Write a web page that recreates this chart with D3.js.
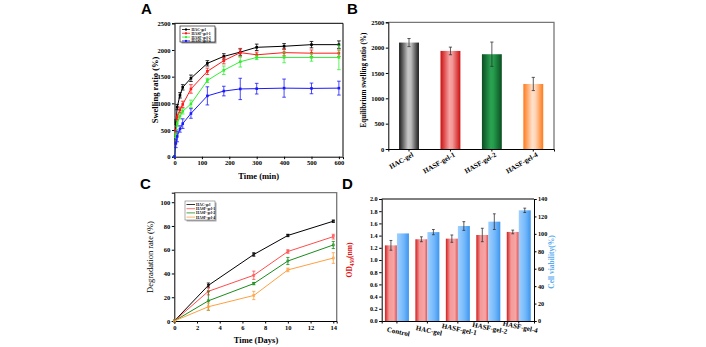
<!DOCTYPE html>
<html>
<head>
<meta charset="utf-8">
<script src="https://cdn.jsdelivr.net/npm/d3@7"></script>
<style>
  html, body { margin: 0; padding: 0; background: #fff; }
  svg { display: block; }
  .tick text { font-family: "Liberation Serif", "Times New Roman", serif; font-weight: bold; }
</style>
</head>
<body>
<svg id="chart" width="706" height="347"></svg>
<script>
// ---- panel A: swelling kinetics ----
const swellTimes = [0, 5, 10, 20, 30, 60, 120, 180, 240, 300, 400, 500, 600];
const swellSeries = ["HAC-gel", "HASF-gel-1", "HASF-gel-2", "HASF-gel-4"];
const swellHAC = [0, 650, 930, 1150, 1300, 1470, 1750, 1880, 1960, 2050, 2070, 2100, 2100];
const swellHAC_err = [0, 40, 50, 50, 50, 60, 50, 50, 60, 60, 50, 60, 70];
const swellG1 = [0, 470, 750, 880, 980, 1270, 1600, 1800, 1950, 1910, 1950, 1940, 1940];
const swellG1_err = [0, 40, 50, 50, 60, 80, 60, 60, 80, 50, 60, 60, 60];
const swellG2 = [0, 400, 620, 760, 850, 990, 1430, 1620, 1780, 1860, 1860, 1860, 1860];
const swellG2_err = [0, 40, 50, 50, 50, 70, 40, 80, 100, 40, 100, 70, 230];
const swellG4 = [0, 250, 380, 520, 620, 810, 1140, 1230, 1270, 1275, 1285, 1280, 1285];
const swellG4_err = [0, 80, 100, 60, 90, 90, 170, 90, 200, 100, 170, 100, 130];
const swellColors = ["#000000", "#ff1a1a", "#33ee33", "#1a1aff"];

// ---- panel B: equilibrium swelling ----
const eqCategories = ["HAC-gel", "HASF-gel-1", "HASF-gel-2", "HASF-gel-4"];
const eqValues = [2100, 1935, 1870, 1283];
const eqErrors = [80, 75, 240, 130];

// ---- panel C: degradation ----
const degDays = [0, 3, 7, 10, 14];
const degHAC = [0, 30, 56, 72, 84];
const degHAC_err = [0, 2, 1.5, 1, 1];
const degG1 = [0, 25, 38.5, 58.5, 71];
const degG1_err = [0, 3, 3.5, 1.5, 2];
const degG2 = [0, 17, 31.5, 50.5, 64];
const degG2_err = [0, 8, 1, 3, 3];
const degG4 = [0, 12, 21.5, 43, 53];
const degG4_err = [0, 3, 3.5, 1.5, 4.5];
const degColors = ["#000000", "#ff4d4d", "#1a8c1a", "#ffa040"];

// ---- panel D: OD450 / cell viability ----
const cellGroups = ["Control", "HAC-gel", "HASF-gel-1", "HASF-gel-2", "HASF-gel-4"];
const odValues = [1.24, 1.34, 1.35, 1.41, 1.46];
const odErrors = [0.08, 0.04, 0.06, 0.11, 0.03];
const viabValues = [100.5, 102, 109, 114, 127];
const viabErrors = [0, 3, 5, 9, 2.5];

const yTicksA = [0, 500, 1000, 1500, 2000, 2500];
const xTicksA = [0, 100, 200, 300, 400, 500, 600];
const xTicksC = [0, 2, 4, 6, 8, 10, 12, 14];
const yTicksC = [0, 20, 40, 60, 80, 100];
const yTicksDL = [0, 0.2, 0.4, 0.6, 0.8, 1.0, 1.2, 1.4, 1.6, 1.8, 2.0];
const yTicksDR = [0, 20, 40, 60, 80, 100, 120, 140];

const svg = d3.select("#chart");
const serif = '"Liberation Serif", "Times New Roman", serif';
const sans = '"Liberation Sans", Arial, sans-serif';
const fmtInt = d3.format("d");
const defs = svg.append("defs");

function hGrad(id, stops) {
  const g = defs.append("linearGradient").attr("id", id)
    .attr("x1", "0%").attr("x2", "100%").attr("y1", "0%").attr("y2", "0%");
  stops.forEach(([o, c]) => g.append("stop").attr("offset", o).attr("stop-color", c));
}
hGrad("gHAC", [["0%", "#1a1a1a"], ["45%", "#c8c8c8"], ["60%", "#bdbdbd"], ["100%", "#1a1a1a"]]);
hGrad("gG1", [["0%", "#cc0f0f"], ["45%", "#f7a3a3"], ["60%", "#f29898"], ["100%", "#cc0f0f"]]);
hGrad("gG2", [["0%", "#0b4d22"], ["45%", "#2aa352"], ["60%", "#249a4a"], ["100%", "#0b4d22"]]);
hGrad("gG4", [["0%", "#ff7a1a"], ["45%", "#ffe2cc"], ["60%", "#ffd6b8"], ["100%", "#ff7a1a"]]);
hGrad("gRed", [["0%", "#d31c1c"], ["35%", "#f49a9a"], ["75%", "#f6a5a5"], ["100%", "#e04a4a"]]);
hGrad("gBlue", [["0%", "#9fd0ff"], ["55%", "#74b8fb"], ["100%", "#3d95ee"]]);

function panelLabel(text, x, y) {
  svg.append("text").attr("x", x).attr("y", y).text(text)
    .attr("font-family", sans).attr("font-weight", "bold").attr("font-size", 15);
}

function styleAxis(g, fs) {
  g.select(".domain").attr("stroke", "#000").attr("stroke-width", 1);
  g.selectAll(".tick line").attr("stroke", "#000");
  g.selectAll(".tick text").attr("font-size", fs).attr("fill", "#000");
}

function frame(x0, x1, y0, y1, color, w) {
  svg.append("path").attr("d", `M${x0},${y0}H${x1}V${y1}`)
    .attr("fill", "none").attr("stroke", color).attr("stroke-width", w);
}

function errBars(g, data, x, y, color, cap) {
  g.selectAll(null).data(data.filter(d => d.e > 0)).join("path")
    .attr("d", d => {
      const xx = x(d.x), t = y(d.v + d.e), b = y(d.v - d.e);
      return `M${xx - cap},${t}H${xx + cap}M${xx},${t}V${b}M${xx - cap},${b}H${xx + cap}`;
    })
    .attr("fill", "none").attr("stroke", color).attr("stroke-width", 0.8);
}

// ================= Panel A =================
(function () {
  const x = d3.scaleLinear().domain([0, 615]).range([174.5, 343]);
  const y = d3.scaleLinear().domain([0, 2500]).range([156.7, 23.3]);
  frame(174.5, 343, 23.3, 156.7, "#000", 1);
  styleAxis(svg.append("g").attr("transform", "translate(0,156.7)")
    .call(d3.axisBottom(x).tickValues(xTicksA).tickSize(2.5).tickPadding(1.5).tickFormat(fmtInt)), 6.5);
  styleAxis(svg.append("g").attr("transform", "translate(174.5,0)")
    .call(d3.axisLeft(y).tickValues(yTicksA).tickSize(2.5).tickPadding(1.5).tickFormat(fmtInt)), 6.5);

  const vals = [swellHAC, swellG1, swellG2, swellG4];
  const errs = [swellHAC_err, swellG1_err, swellG2_err, swellG4_err];
  const line = d3.line().x(d => x(d.x)).y(d => y(d.v));
  vals.forEach((arr, i) => {
    const data = swellTimes.map((t, k) => ({ x: t, v: arr[k], e: errs[i][k] }));
    const g = svg.append("g");
    errBars(g, data, x, y, swellColors[i], 1.8);
    g.append("path").datum(data).attr("d", line).attr("fill", "none")
      .attr("stroke", swellColors[i]).attr("stroke-width", 1);
    g.selectAll("rect").data(data).join("rect")
      .attr("x", d => x(d.x) - 1.3).attr("y", d => y(d.v) - 1.3)
      .attr("width", 2.6).attr("height", 2.6).attr("fill", swellColors[i]);
  });

  // legend
  const lg = svg.append("g");
  lg.append("rect").attr("x", 181.5).attr("y", 27.5).attr("width", 35).attr("height", 16).attr("fill", "#999");
  lg.append("rect").attr("x", 180).attr("y", 26).attr("width", 35).attr("height", 16)
    .attr("fill", "#fff").attr("stroke", "#000").attr("stroke-width", 0.6);
  swellSeries.forEach((name, i) => {
    const yy = 29.5 + i * 3.8;
    lg.append("line").attr("x1", 182).attr("x2", 190).attr("y1", yy).attr("y2", yy)
      .attr("stroke", swellColors[i]).attr("stroke-width", 0.8);
    lg.append("rect").attr("x", 185).attr("y", yy - 1).attr("width", 2).attr("height", 2).attr("fill", swellColors[i]);
    lg.append("text").attr("x", 191.5).attr("y", yy + 1.4).text(name)
      .attr("font-family", serif).attr("font-weight", "bold").attr("font-size", 3.8);
  });

  svg.append("text").attr("x", 258.7).attr("y", 179).attr("text-anchor", "middle")
    .text("Time (min)").attr("font-family", serif).attr("font-weight", "bold").attr("font-size", 8.5);
  svg.append("text").attr("transform", "translate(158,90) rotate(-90)").attr("text-anchor", "middle")
    .text("Swelling ratio (%)").attr("font-family", serif).attr("font-weight", "bold").attr("font-size", 8.5);
  panelLabel("A", 141, 14);
})();

// ================= Panel B =================
(function () {
  const x = d3.scaleBand().domain(eqCategories).range([388.3, 554]).paddingInner(0.52).paddingOuter(0.26);
  const y = d3.scaleLinear().domain([0, 2500]).range([149, 22.3]);
  frame(388.3, 554, 22.3, 149, "#777", 1.3);
  const gx = svg.append("g").attr("transform", "translate(0,149)")
    .call(d3.axisBottom(x).tickSize(2.5).tickFormat(""));
  styleAxis(gx, 6.5);
  styleAxis(svg.append("g").attr("transform", "translate(388.3,0)")
    .call(d3.axisLeft(y).tickValues(yTicksA).tickSize(2.5).tickPadding(1.5).tickFormat(fmtInt)), 6.5);

  const fills = ["url(#gHAC)", "url(#gG1)", "url(#gG2)", "url(#gG4)"];
  svg.append("g").selectAll("rect").data(eqCategories).join("rect")
    .attr("x", d => x(d)).attr("width", x.bandwidth())
    .attr("y", (d, i) => y(eqValues[i])).attr("height", (d, i) => 149 - y(eqValues[i]))
    .attr("fill", (d, i) => fills[i]);
  const bx = c => x(c) + x.bandwidth() / 2;
  const data = eqCategories.map((c, i) => ({ x: c, v: eqValues[i], e: eqErrors[i] }));
  errBars(svg.append("g"), data, bx, y, "#333", 1.6);

  svg.append("g").selectAll("text").data(eqCategories).join("text")
    .attr("transform", d => `translate(${bx(d) + 5},${156}) rotate(-30)`)
    .attr("text-anchor", "end").text(d => d)
    .attr("font-family", serif).attr("font-weight", "bold").attr("font-size", 7);
  svg.append("text").attr("transform", "translate(366,80) rotate(-90)").attr("text-anchor", "middle")
    .text("Equilibrium swelling ratio (%)").attr("font-family", serif).attr("font-weight", "bold").attr("font-size", 7.2);
  panelLabel("B", 347, 14);
})();

// ================= Panel C =================
(function () {
  const x = d3.scaleLinear().domain([0, 14.3]).range([174.3, 336.7]);
  const y = d3.scaleLinear().domain([0, 108]).range([321, 192.7]);
  frame(174.3, 336.7, 192.7, 321, "#777", 1.3);
  styleAxis(svg.append("g").attr("transform", "translate(0,321)")
    .call(d3.axisBottom(x).tickValues(xTicksC).tickSize(2.5).tickPadding(1.5)), 6.5);
  styleAxis(svg.append("g").attr("transform", "translate(174.3,0)")
    .call(d3.axisLeft(y).tickValues(yTicksC).tickSize(2.5).tickPadding(1.5)), 6.5);

  const vals = [degHAC, degG1, degG2, degG4];
  const errs = [degHAC_err, degG1_err, degG2_err, degG4_err];
  const line = d3.line().x(d => x(d.x)).y(d => y(d.v));
  vals.forEach((arr, i) => {
    const data = degDays.map((t, k) => ({ x: t, v: arr[k], e: errs[i][k] }));
    const g = svg.append("g");
    errBars(g, data, x, y, degColors[i], 1.6);
    g.append("path").datum(data).attr("d", line).attr("fill", "none")
      .attr("stroke", degColors[i]).attr("stroke-width", 1);
    g.selectAll("rect").data(data).join("rect")
      .attr("x", d => x(d.x) - 1).attr("y", d => y(d.v) - 1)
      .attr("width", 2).attr("height", 2).attr("fill", "none")
      .attr("stroke", degColors[i]).attr("stroke-width", 0.6);
  });

  const lg = svg.append("g");
  lg.append("rect").attr("x", 186.5).attr("y", 202.5).attr("width", 30).attr("height", 19).attr("fill", "#aaa");
  lg.append("rect").attr("x", 185).attr("y", 201).attr("width", 30).attr("height", 19)
    .attr("fill", "#fff").attr("stroke", "#777").attr("stroke-width", 0.6);
  swellSeries.forEach((name, i) => {
    const yy = 204.5 + i * 4.2;
    lg.append("line").attr("x1", 186.5).attr("x2", 195).attr("y1", yy).attr("y2", yy)
      .attr("stroke", degColors[i]).attr("stroke-width", 0.8);
    lg.append("text").attr("x", 196).attr("y", yy + 1.4).text(name)
      .attr("font-family", serif).attr("font-weight", "bold").attr("font-size", 3.8);
  });

  svg.append("text").attr("x", 256).attr("y", 343).attr("text-anchor", "middle")
    .text("Time (Days)").attr("font-family", serif).attr("font-weight", "bold").attr("font-size", 8.5);
  svg.append("text").attr("transform", "translate(153,257) rotate(-90)").attr("text-anchor", "middle")
    .text("Degradation rate (%)").attr("font-family", serif).attr("font-size", 8.5);
  panelLabel("C", 140, 189);
})();

// ================= Panel D =================
(function () {
  const x0 = 381.7, x1 = 534, yb = 321, yt = 199;
  const x = d3.scaleBand().domain(cellGroups).range([x0, x1]);
  const yL = d3.scaleLinear().domain([0, 2]).range([yb, yt]);
  const yR = d3.scaleLinear().domain([0, 140]).range([yb, yt]);
  svg.append("line").attr("x1", x0).attr("x2", x1).attr("y1", yt).attr("y2", yt)
    .attr("stroke", "#000").attr("stroke-width", 1);
  styleAxis(svg.append("g").attr("transform", `translate(0,${yb})`)
    .call(d3.axisBottom(x).tickSize(2.5).tickFormat("")), 6.5);
  styleAxis(svg.append("g").attr("transform", `translate(${x0},0)`)
    .call(d3.axisLeft(yL).tickValues(yTicksDL).tickSize(2.5).tickPadding(1.5).tickFormat(d3.format(".1f"))), 6.2);
  styleAxis(svg.append("g").attr("transform", `translate(${x1},0)`)
    .call(d3.axisRight(yR).tickValues(yTicksDR).tickSize(2.5).tickPadding(1.5)), 6.2);

  const bw = 12;
  const cx = g => x(g) + x.bandwidth() / 2;
  svg.append("g").selectAll("rect").data(cellGroups).join("rect")
    .attr("x", d => cx(d) - bw).attr("width", bw)
    .attr("y", (d, i) => yL(odValues[i])).attr("height", (d, i) => yb - yL(odValues[i]))
    .attr("fill", "url(#gRed)");
  svg.append("g").selectAll("rect").data(cellGroups).join("rect")
    .attr("x", d => cx(d)).attr("width", bw)
    .attr("y", (d, i) => yR(viabValues[i])).attr("height", (d, i) => yb - yR(viabValues[i]))
    .attr("fill", "url(#gBlue)");
  const odData = cellGroups.map((c, i) => ({ x: c, v: odValues[i], e: odErrors[i] }));
  const vData = cellGroups.map((c, i) => ({ x: c, v: viabValues[i], e: viabErrors[i] }));
  errBars(svg.append("g"), odData, g => cx(g) - bw / 2, yL, "#333", 1.4);
  errBars(svg.append("g"), vData, g => cx(g) + bw / 2, yR, "#333", 1.4);

  svg.append("g").selectAll("text").data(cellGroups).join("text")
    .attr("transform", (d, i) => `translate(${cx(d) + 1},${334 - i * 1.2}) rotate(12)`)
    .attr("text-anchor", "middle").text(d => d)
    .attr("font-family", serif).attr("font-weight", "bold").attr("font-size", 7);

  const od = svg.append("text").attr("transform", "translate(352,260) rotate(-90)").attr("text-anchor", "middle")
    .attr("font-family", serif).attr("font-weight", "bold").attr("font-size", 7.5).attr("fill", "#e01010");
  od.append("tspan").text("OD");
  od.append("tspan").text("450").attr("font-size", 5.5).attr("dy", 1.5);
  od.append("tspan").text("(nm)").attr("dy", -1.5);
  svg.append("text").attr("transform", "translate(554,262) rotate(-90)").attr("text-anchor", "middle")
    .text("Cell viability(%)").attr("font-family", serif).attr("font-weight", "bold").attr("font-size", 7.5)
    .attr("fill", "#55aaf0");
  panelLabel("D", 342, 189);
})();
</script>
</body>
</html>
